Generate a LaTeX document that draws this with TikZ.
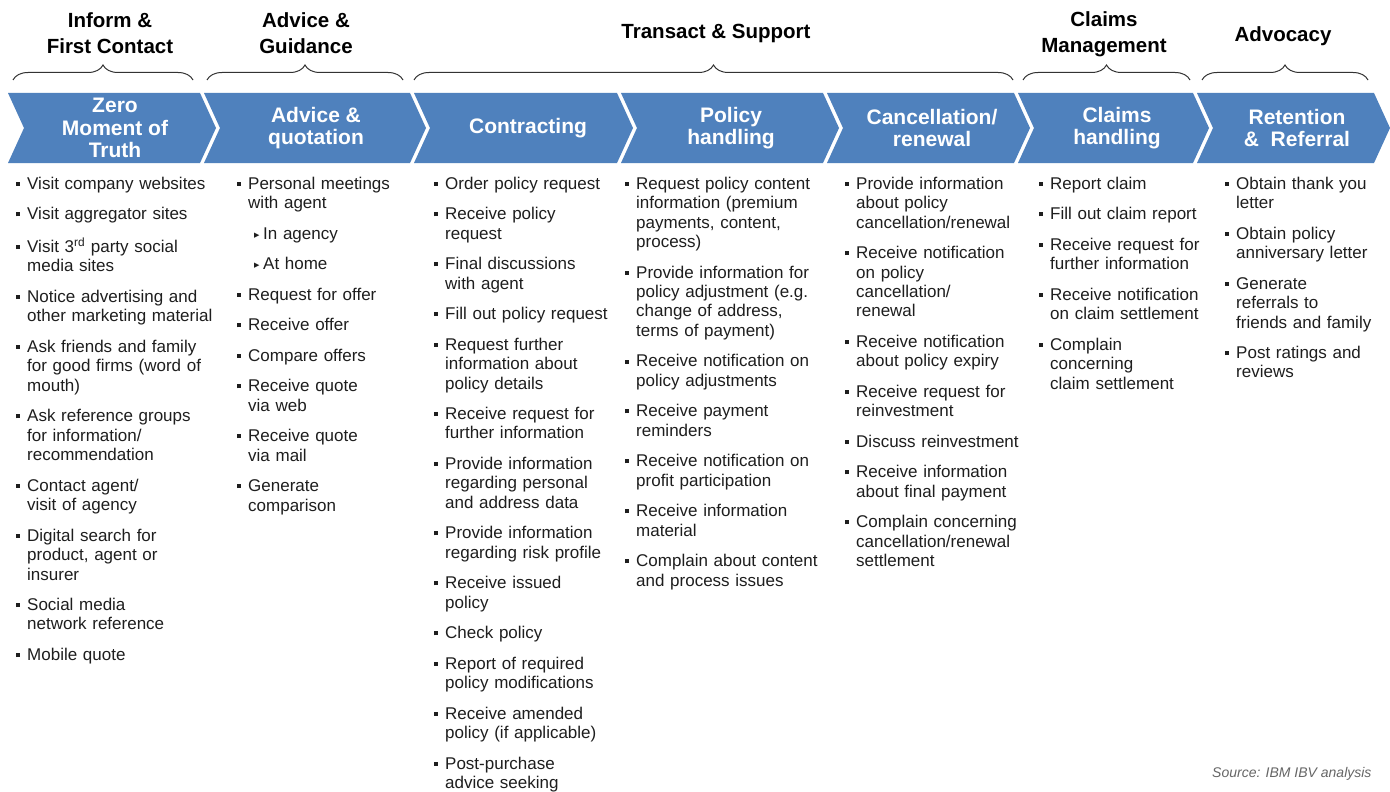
\documentclass[tikz,border=0pt]{standalone}
\usepackage{fontspec}
\setmainfont{Liberation Sans}
\newfontfamily\symfont{DejaVu Sans}
\usetikzlibrary{decorations.pathreplacing}
\definecolor{stageblue}{RGB}{79,129,189}
\definecolor{bodytext}{RGB}{30,30,30}

% list entries: square bullet, hanging lines
\newcommand{\itm}[1]{\hangindent=11.5pt\hangafter=1\noindent\makebox[11.5pt][l]{\raisebox{3.4pt}{\rule{4pt}{4pt}}}\strut#1\par}
\newcommand{\subitm}[1]{\hangindent=26.5pt\hangafter=1\noindent\hspace*{17.5pt}\makebox[9pt][l]{\raisebox{2pt}{\fontsize{7}{7}\symfont ▶}}\strut#1\par}

\tikzset{
  stage/.style={text=white, font=\bfseries\fontsize{21}{22.5}\selectfont, align=center},
  phase/.style={font=\bfseries\fontsize{20.5}{26}\selectfont, align=center},
  steps/.style={anchor=north west, inner sep=0pt, text width=230pt, align=left, text=bodytext,
    font=\fontsize{17}{19.45}\selectfont},
  phasebrace/.style={decorate, decoration={brace, amplitude=15pt}, line width=1pt, black!80}
}

\begin{document}
\begin{tikzpicture}[x=1pt, y=-1pt]
\fill[white] (0,0) rectangle (1390,792);
\useasboundingbox (0,0) rectangle (1390,792);

% phase headings and braces
\node[phase] (inform) at (110,33) {Inform \&\\First Contact};
\node[phase] (advice) at (306,33) {Advice \&\\Guidance};
\node[phase] (transact) at (716,33) {Transact \& Support};
\node[phase] (claimsmgmt) at (1104,34) {Claims\\Management};
\node[phase] (advocacy) at (1283,36) {Advocacy};

\draw[phasebrace] (13,80) -- (193,80);
\draw[phasebrace] (207,80) -- (403,80);
\draw[phasebrace] (414,80) -- (1013,80);
\draw[phasebrace] (1023,80) -- (1190,80);
\draw[phasebrace] (1202,80) -- (1368,80);

% chevron band
\foreach \a/\b in {8/200, 204/410, 414/617, 621/823, 827/1014, 1018/1193, 1197/1374}
  \fill[stageblue] (\a,93) -- (\b,93) -- (\b+16,128) -- (\b,163) -- (\a,163) -- (\a+16,128) -- cycle;

\node[stage] (zmot) at (115,128) {Zero\\Moment of\\Truth};
\node[stage] (quote) at (316,128) {Advice \&\\quotation};
\node[stage] (contract) at (528,128) {Contracting};
\node[stage] (policy) at (731,128) {Policy\\handling};
\node[stage] (cancel) at (932,128) {Cancellation/\\renewal};
\node[stage] (claims) at (1117,128) {Claims\\handling};
\node[stage] (referral) at (1297,128) {Retention\\\&\ \ Referral};

% customer steps per stage
\node[steps] (zmot list) at (15.5,175.4) {\setlength{\parskip}{11.05pt}%
  \itm{Visit company websites}
  \itm{Visit aggregator sites}
  \itm{Visit 3\textsuperscript{rd} party social\newline media sites}
  \itm{Notice advertising and\newline other marketing material}
  \itm{Ask friends and family\newline for good firms (word of\newline mouth)}
  \itm{Ask reference groups\newline for information/\newline recommendation}
  \itm{Contact agent/\newline visit of agency}
  \itm{Digital search for\newline product, agent or\newline insurer}
  \itm{Social media\newline network reference}
  \itm{Mobile quote}};

\node[steps] (quote list) at (236.5,175.4) {\setlength{\parskip}{11.05pt}%
  \itm{Personal meetings\newline with agent}
  \subitm{In agency}
  \subitm{At home}
  \itm{Request for offer}
  \itm{Receive offer}
  \itm{Compare offers}
  \itm{Receive quote\newline via web}
  \itm{Receive quote\newline via mail}
  \itm{Generate\newline comparison}};

\node[steps] (contract list) at (433.5,175.4) {\setlength{\parskip}{11.05pt}%
  \itm{Order policy request}
  \itm{Receive policy\newline request}
  \itm{Final discussions\newline with agent}
  \itm{Fill out policy request}
  \itm{Request further\newline information about\newline policy details}
  \itm{Receive request for\newline further information}
  \itm{Provide information\newline regarding personal\newline and address data}
  \itm{Provide information\newline regarding risk profile}
  \itm{Receive issued\newline policy}
  \itm{Check policy}
  \itm{Report of required\newline policy modifications}
  \itm{Receive amended\newline policy (if applicable)}
  \itm{Post-purchase\newline advice seeking}};

\node[steps] (policy list) at (624.5,175.4) {\setlength{\parskip}{11.05pt}%
  \itm{Request policy content\newline information (premium\newline payments, content,\newline process)}
  \itm{Provide information for\newline policy adjustment (e.g.\newline change of address,\newline terms of payment)}
  \itm{Receive notification on\newline policy adjustments}
  \itm{Receive payment\newline reminders}
  \itm{Receive notification on\newline profit participation}
  \itm{Receive information\newline material}
  \itm{Complain about content\newline and process issues}};

\node[steps] (cancel list) at (844.5,175.4) {\setlength{\parskip}{11.05pt}%
  \itm{Provide information\newline about policy\newline cancellation/renewal}
  \itm{Receive notification\newline on policy\newline cancellation/\newline renewal}
  \itm{Receive notification\newline about policy expiry}
  \itm{Receive request for\newline reinvestment}
  \itm{Discuss reinvestment}
  \itm{Receive information\newline about final payment}
  \itm{Complain concerning\newline cancellation/renewal\newline settlement}};

\node[steps] (claims list) at (1038.5,175.4) {\setlength{\parskip}{11.05pt}%
  \itm{Report claim}
  \itm{Fill out claim report}
  \itm{Receive request for\newline further information}
  \itm{Receive notification\newline on claim settlement}
  \itm{Complain\newline concerning\newline claim settlement}};

\node[steps] (referral list) at (1224.5,175.4) {\setlength{\parskip}{11.05pt}%
  \itm{Obtain thank you\newline letter}
  \itm{Obtain policy\newline anniversary letter}
  \itm{Generate\newline referrals to\newline friends and family}
  \itm{Post ratings and\newline reviews}};

\node[anchor=east, font=\itshape\fontsize{14}{16}\selectfont, text=black!60] (source) at (1375,774) {Source: IBM IBV analysis};
\end{tikzpicture}
\end{document}
